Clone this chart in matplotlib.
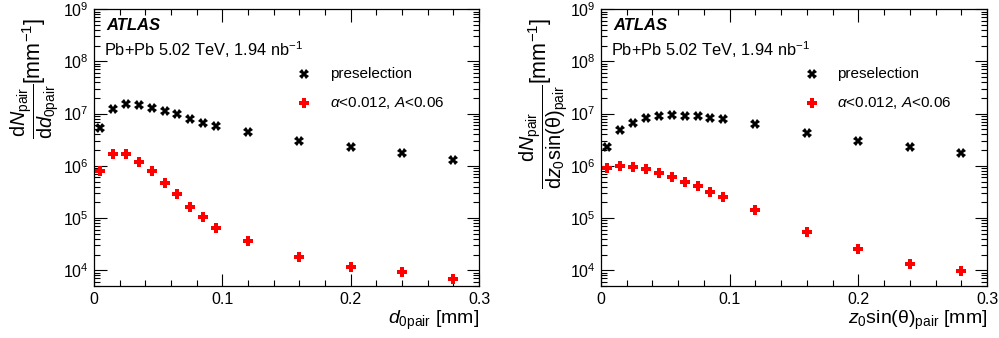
import numpy as np
import matplotlib.pyplot as plt
from matplotlib.ticker import MultipleLocator, LogLocator, LogFormatterMathtext, FuncFormatter, NullFormatter

# ATLAS-style look: Helvetica-like font, mathtext in the same face
plt.rcParams['font.family'] = ['Liberation Sans', 'DejaVu Sans']
plt.rcParams['mathtext.fontset'] = 'custom'
plt.rcParams['mathtext.rm'] = 'Liberation Sans'
plt.rcParams['mathtext.it'] = 'Liberation Sans:italic'
plt.rcParams['mathtext.bf'] = 'Liberation Sans:bold'

# ---- data (bin centres in mm, counts per mm) ----
x_bins = [0.005, 0.015, 0.025, 0.035, 0.045, 0.055, 0.065, 0.075, 0.085, 0.095,
          0.12, 0.16, 0.20, 0.24, 0.28]

d0_presel = [5.2e6, 1.25e7, 1.5e7, 1.48e7, 1.3e7, 1.1e7, 9.6e6, 7.8e6, 6.7e6, 5.8e6,
             4.4e6, 3.0e6, 2.3e6, 1.75e6, 1.3e6]
d0_sel = [7.9e5, 1.7e6, 1.67e6, 1.2e6, 7.8e5, 4.7e5, 2.9e5, 1.64e5, 1.05e5, 6.5e4,
          3.6e4, 1.78e4, 1.15e4, 9.1e3, 6.9e3]

z0_presel = [2.3e6, 4.8e6, 6.7e6, 8.3e6, 9.1e6, 9.4e6, 9.1e6, 8.8e6, 8.3e6, 7.8e6,
             6.2e6, 4.3e6, 3.0e6, 2.25e6, 1.74e6]
z0_sel = [9.0e5, 9.7e5, 9.4e5, 8.5e5, 7.3e5, 6.2e5, 5.0e5, 4.1e5, 3.2e5, 2.5e5,
          1.4e5, 5.4e4, 2.5e4, 1.3e4, 9.8e3]

yfracs = [r'$\dfrac{\mathrm{d}N_{\mathrm{pair}}}{\mathrm{d}d_{0\mathrm{pair}}}$',
          r'$\dfrac{\mathrm{d}N_{\mathrm{pair}}}{\mathrm{d}z_{0}\mathrm{sin(θ)}_{\mathrm{pair}}}$']
xlabels = [r'$d_{0\mathrm{pair}}$ [mm]', r'$z_{0}$sin(θ)$_{\mathrm{pair}}$ [mm]']

fig = plt.figure(figsize=(9.99, 3.38), dpi=100)
ax1 = fig.add_axes([0.094, 0.154, 0.3855, 0.819])
ax2 = fig.add_axes([0.6016, 0.154, 0.3864, 0.819])
frac_x = [0.035, 0.5445]
unit_x = [0.034, 0.541]

for i, (ax, pre, sel) in enumerate([(ax1, d0_presel, d0_sel), (ax2, z0_presel, z0_sel)]):
    ax.plot(x_bins, pre, ls='none', marker='X', ms=7, color='black', mew=0)
    ax.plot(x_bins, sel, ls='none', marker='P', ms=7.5, color='red', mew=0)

    ax.set_yscale('log')
    ax.set_xlim(0, 0.3)
    ax.set_ylim(5e3, 1e9)

    ax.xaxis.set_major_locator(MultipleLocator(0.1))
    ax.xaxis.set_minor_locator(MultipleLocator(0.02))
    ax.xaxis.set_major_formatter(FuncFormatter(lambda v, _: '0' if abs(v) < 1e-9 else f'{v:.1f}'))
    ax.yaxis.set_major_locator(LogLocator(base=10, numticks=20))
    ax.yaxis.set_minor_locator(LogLocator(base=10, subs=np.arange(2, 10), numticks=20))
    ax.yaxis.set_major_formatter(LogFormatterMathtext())
    ax.yaxis.set_minor_formatter(NullFormatter())

    ax.tick_params(which='both', direction='in', top=True, right=True, labelsize=11.5, width=0.8)
    ax.tick_params(which='major', length=9, pad=4)
    ax.tick_params(which='minor', length=4.5)
    for s in ax.spines.values():
        s.set_linewidth(0.9)

    ax.text(0.031, 0.942, 'ATLAS', transform=ax.transAxes, fontsize=12,
            fontweight='bold', style='italic', va='center')
    ax.text(0.026, 0.852, 'Pb+Pb 5.02 TeV, 1.94 nb$^{-1}$', transform=ax.transAxes,
            fontsize=11.8, va='center')

    # legend drawn by hand, ATLAS style
    ax.plot([0.546], [0.765], transform=ax.transAxes, marker='X', ms=7, color='black', mew=0)
    ax.plot([0.546], [0.662], transform=ax.transAxes, marker='P', ms=7.5, color='red', mew=0)
    ax.text(0.612, 0.765, 'preselection', transform=ax.transAxes, fontsize=11, va='center')
    ax.text(0.612, 0.662, r'$\alpha$<0.012, $A$<0.06', transform=ax.transAxes,
            fontsize=11, va='center')

    ax.set_xlabel(xlabels[i], loc='right', fontsize=14, labelpad=2)
    # y title: fraction plus unit, ROOT-style aligned to the top of the axis
    fig.text(unit_x[i], 0.947, '[mm$^{-1}$]', rotation=90, ha='center', va='top', fontsize=15.5)
    fig.text(frac_x[i], 0.752, yfracs[i], rotation=90, ha='center', va='top', fontsize=14.3)

fig.savefig('out.png', dpi=100)
